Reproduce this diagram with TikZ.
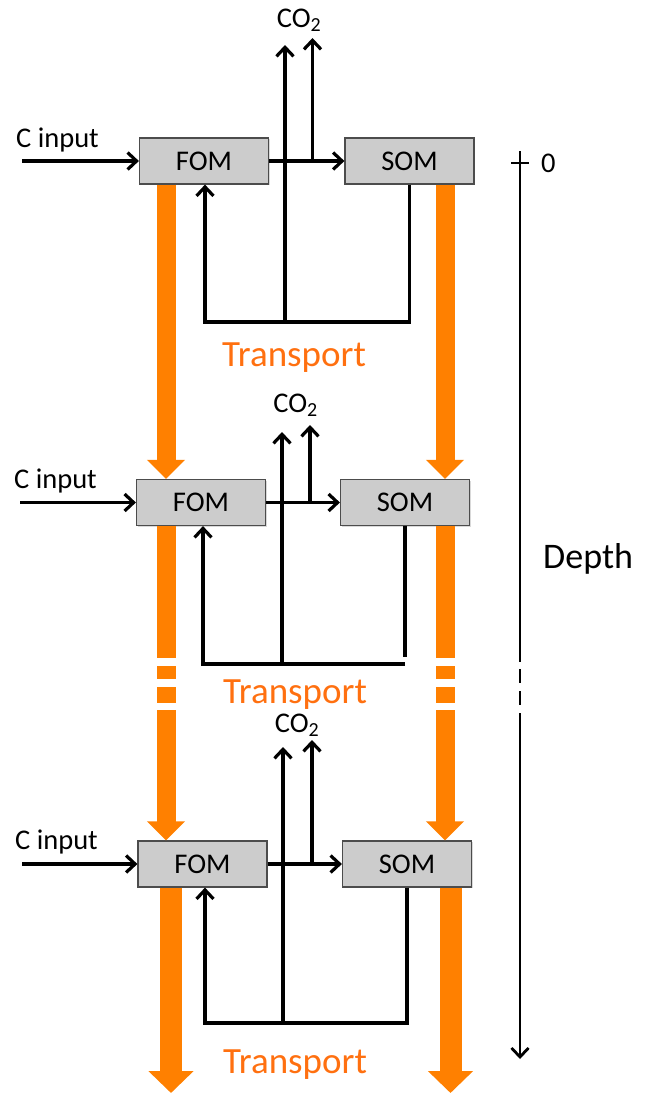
\documentclass[tikz,border=0pt]{standalone}
\usepackage{fontspec}
\setmainfont{Carlito}
\usetikzlibrary{arrows.meta,shadows}
\definecolor{BarClr}{RGB}{255,128,0}
\definecolor{TransClr}{RGB}{255,112,16}
\definecolor{BoxClr}{RGB}{204,204,204}

\begin{document}
\begin{tikzpicture}[x=1pt,y=-1pt,
  pool/.style={draw=black!70,line width=1.2pt,fill=BoxClr,minimum width=129pt,minimum height=46pt,inner sep=0pt,
    font=\fontsize{28.5}{32}\selectfont,drop shadow={shadow xshift=1pt,shadow yshift=-1pt,opacity=.3}},
  flow/.style={line width=3.2pt,-{Straight Barb[length=9pt,width=17pt]}},
  link/.style={line width=3.2pt},
  lbl/.style={inner sep=0pt,font=\fontsize{28.5}{32}\selectfont},
  big/.style={inner sep=0pt,font=\fontsize{37}{40}\selectfont},
  transport/.style={draw=BarClr,line width=19pt,-{Triangle[length=19pt,width=37pt]}},
  sink/.style={draw=BarClr,line width=22pt,-{Triangle[length=22pt,width=44pt]}}]
\useasboundingbox (0,0) rectangle (650,1096);

% first layer
\node[pool] (fom1) at (204,161) {FOM};
\node[pool] (som1) at (409.5,161) {SOM};
\node[lbl,anchor=base west] (cin1) at (16,147) {C input};
\node[lbl,anchor=base] (co21) at (299,27) {CO\textsubscript{2}};
\coordinate (src1) at (22,161);
\coordinate (loop1) at (205,322);
\coordinate (vent1) at (285,322);
\coordinate (branch1) at (312.5,161);
\coordinate (out1a) at (285,45);
\coordinate (out1b) at (312.5,38);

\draw[flow] (src1) -- (fom1);
\draw[flow] (fom1) -- (som1);
\draw[flow] (som1.south) |- (loop1) -- (loop1 |- fom1.south);
\draw[flow] (vent1) -- (out1a);
\draw[flow] (branch1) -- (out1b);

% second layer
\node[pool] (fom2) at (201,502.5) {FOM};
\node[pool] (som2) at (405,502.5) {SOM};
\node[lbl,anchor=base west] (cin2) at (14,488) {C input};
\node[lbl,anchor=base] (co22) at (295.5,412) {CO\textsubscript{2}};
\coordinate (src2) at (20,502.5);
\coordinate (loop2) at (203,664);
\coordinate (cut2) at (405,657);
\coordinate (vent2) at (282,664);
\coordinate (branch2) at (310,502.5);
\coordinate (out2a) at (282,432);
\coordinate (out2b) at (310,425);

\draw[flow] (src2) -- (fom2);
\draw[flow] (fom2) -- (som2);
\draw[link] (som2.south) -- (som2.south |- cut2);
\draw[flow] (cut2 |- loop2) -- (loop2) -- (loop2 |- fom2.south);
\draw[flow] (vent2) -- (out2a);
\draw[flow] (branch2) -- (out2b);

% deepest layer
\node[pool] (fom3) at (202.5,864) {FOM};
\node[pool] (som3) at (407,864) {SOM};
\node[lbl,anchor=base west] (cin3) at (15,849) {C input};
\node[lbl,anchor=base] (co23) at (297,732) {CO\textsubscript{2}};
\coordinate (src3) at (22,864);
\coordinate (loop3) at (205,1023);
\coordinate (vent3) at (283,1023);
\coordinate (branch3) at (312,864);
\coordinate (out3a) at (283,747);
\coordinate (out3b) at (312,740);

\draw[flow] (src3) -- (fom3);
\draw[flow] (fom3) -- (som3);
\draw[flow] (som3.south) |- (loop3) -- (loop3 |- fom3.south);
\draw[flow] (vent3) -- (out3a);
\draw[flow] (branch3) -- (out3b);

% transport between layers
\coordinate (laneL) at (166,0);
\coordinate (laneR) at (445,0);
\coordinate (sinkL) at (171,1093);
\coordinate (sinkR) at (450.5,1093);

\draw[transport] (fom1.south -| laneL) -- (fom2.north -| laneL);
\draw[transport] (som1.south -| laneR) -- (som2.north -| laneR);
\draw[transport,dash pattern=on 132pt off 8pt on 13pt off 8pt on 16pt off 7pt on 300pt] (fom2.south -| laneL) -- (fom3.north -| laneL);
\draw[transport,dash pattern=on 132pt off 8pt on 13pt off 8pt on 16pt off 7pt on 300pt] (som2.south -| laneR) -- (som3.north -| laneR);
\draw[sink] (fom3.south -| sinkL) -- (sinkL);
\draw[sink] (som3.south -| sinkR) -- (sinkR);

\node[big,text=TransClr,anchor=base west] (tr1) at (222,366) {Transport};
\node[big,text=TransClr,anchor=base west] (tr2) at (223,703) {Transport};
\node[big,text=TransClr,anchor=base west] (tr3) at (223,1073) {Transport};

% depth axis
\coordinate (axtop) at (520,151);
\coordinate (axbot) at (520,1059);
\coordinate (zero) at (520,163);
\draw[line width=2.8pt,-{Straight Barb[length=9pt,width=17pt]},
  dash pattern=on 511pt off 7pt on 14pt off 8pt on 14pt off 8pt on 400pt] (axtop) -- (axbot);
\draw[line width=2.8pt] ([xshift=-9pt]zero) -- ([xshift=9pt]zero);
\node[lbl,anchor=west] (zlbl) at (541,163) {0};
\node[inner sep=0pt,font=\fontsize{36}{40}\selectfont,anchor=base west] (depth) at (543,568) {Depth};

\end{tikzpicture}
\end{document}
